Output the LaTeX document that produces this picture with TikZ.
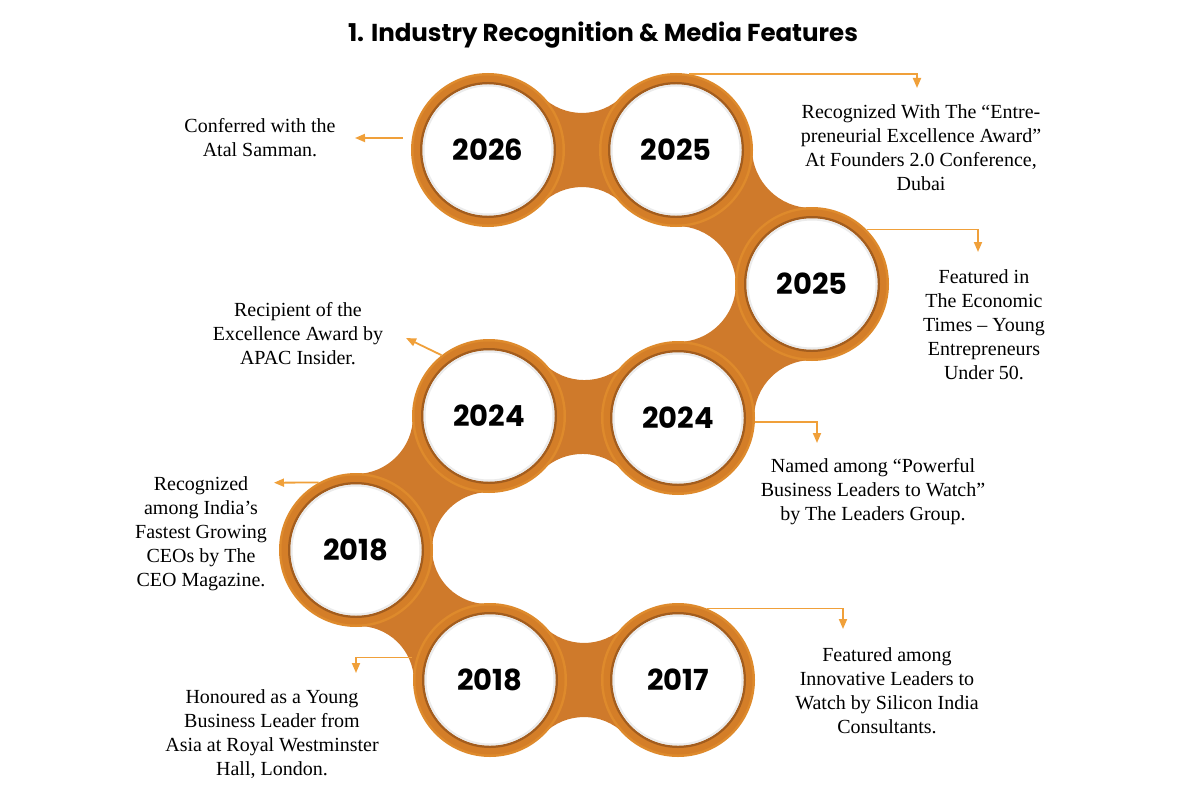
\documentclass[tikz,border=0pt]{standalone}
\usepackage{fontspec}
\setmainfont{Liberation Serif}
\newfontfamily\popfont{Poppins}
\usetikzlibrary{calc,arrows.meta}
\pgfdeclarelayer{bg}
\pgfsetlayers{bg,main}
\definecolor{bridgecol}{HTML}{CF7A2B}
\definecolor{ringA}{HTML}{DE8A2C}
\definecolor{ringB}{HTML}{D47E28}
\definecolor{ringC}{HTML}{A35D1E}
\definecolor{arrcol}{HTML}{F0A03A}
\tikzset{
  yearc/.style={circle, minimum size=154pt, inner sep=0pt, fill=ringA,
    font=\popfont\bfseries\fontsize{29pt}{29pt}\selectfont,
    path picture={
      \fill[ringB] (path picture bounding box.center) circle[radius=74.5pt];
      \fill[ringC] (path picture bounding box.center) circle[radius=68pt];
      \fill[white] (path picture bounding box.center) circle[radius=65.5pt];
      \draw[black!8, line width=2pt] (path picture bounding box.center) circle[radius=64.5pt];
    }},
  desc/.style={font=\fontsize{20pt}{24pt}\selectfont, align=center, inner sep=0pt, anchor=north},
  arr/.style={draw=arrcol, line width=1.8pt, -{Triangle[length=10pt,width=8pt]}},
}
\newcommand\mybridge[2]{%
  \coordinate (m) at ($(#1.center)!0.5!(#2.center)$);
  \coordinate (f1) at ($(m)!95pt!90:(#2.center)$);
  \coordinate (f2) at ($(m)!95pt!-90:(#2.center)$);
  \coordinate (a1) at ($(#1.center)!76pt!(f1)$);
  \coordinate (b1) at ($(#2.center)!76pt!(f1)$);
  \coordinate (a2) at ($(#1.center)!76pt!(f2)$);
  \coordinate (b2) at ($(#2.center)!76pt!(f2)$);
  \coordinate (p1) at ($(f1)!82pt!(m)$);
  \coordinate (p2) at ($(f2)!82pt!(m)$);
  \fill[bridgecol] (a1) .. controls ($(a1)!0.552!(p1)$) and ($(b1)!0.552!(p1)$) .. (b1)
    -- (#2.center) -- (b2) .. controls ($(b2)!0.552!(p2)$) and ($(a2)!0.552!(p2)$) .. (a2)
    -- (#1.center) -- cycle;}
\begin{document}
\begin{tikzpicture}[x=1pt,y=-1pt]
\useasboundingbox (0,0) rectangle (1200,800);

\node[font=\popfont\bfseries\fontsize{24.5pt}{28pt}\selectfont, anchor=base] (title) at (603,42) {1. Industry Recognition \& Media Features};

\node[yearc] (A) at (488,150) {2026};
\node[yearc] (B) at (676,150) {2025};
\node[yearc] (C) at (812,284) {2025};
\node[yearc] (D) at (678,418) {2024};
\node[yearc] (E) at (489,416) {2024};
\node[yearc] (F) at (356,550) {2018};
\node[yearc] (G) at (490,680) {2018};
\node[yearc] (H) at (678,680) {2017};

\begin{pgfonlayer}{bg}
\fill[white] (0,0) rectangle (1200,800);
\mybridge{A}{B}
\mybridge{B}{C}
\mybridge{C}{D}
\mybridge{D}{E}
\mybridge{E}{F}
\mybridge{F}{G}
\mybridge{G}{H}
\end{pgfonlayer}

\node[desc] (tA) at (260,115.2) {\strut Conferred with the\\Atal Samman.};
\node[desc] (tB) at (921,101.5) {\strut Recognized With The “Entre-\\preneurial Excellence Award”\\At Founders 2.0 Conference,\\Dubai};
\node[desc] (tC) at (984,266) {\strut Featured in\\The Economic\\Times – Young\\Entrepreneurs\\Under 50.};
\node[desc] (tE) at (298,299) {\strut Recipient of the\\Excellence Award by\\APAC Insider.};
\node[desc] (tD) at (873,455) {\strut Named among “Powerful\\Business Leaders to Watch”\\by The Leaders Group.};
\node[desc] (tF) at (201,473) {\strut Recognized\\among India’s\\Fastest Growing\\CEOs by The\\CEO Magazine.};
\node[desc] (tG) at (272,686.5) {\strut Honoured as a Young\\Business Leader from\\Asia at Royal Westminster\\Hall, London.};
\node[desc] (tH) at (887,644) {\strut Featured among\\Innovative Leaders to\\Watch by Silicon India\\Consultants.};

\coordinate (t1) at (917,88);
\coordinate (t2) at (355,138);
\coordinate (t3) at (978,252);
\coordinate (t4) at (406,338);
\coordinate (t5) at (817,443);
\coordinate (t6) at (274,482.7);
\coordinate (t7) at (356,673);
\coordinate (t8) at (843,629);

\draw[arr] (B.80) -| (t1);
\draw[arr] ([xshift=-9pt]A.171) -- (t2);
\draw[arr] (C.45) -| (t3);
\draw[arr] (E.128) -- (t4);
\draw[arr] (D.-3) -| (t5);
\draw[arr] (F.119) -- (t6);
\draw[arr] ([xshift=-4pt]G.163) -| (t7);
\draw[arr] (H.68) -| (t8);
\end{tikzpicture}
\end{document}
